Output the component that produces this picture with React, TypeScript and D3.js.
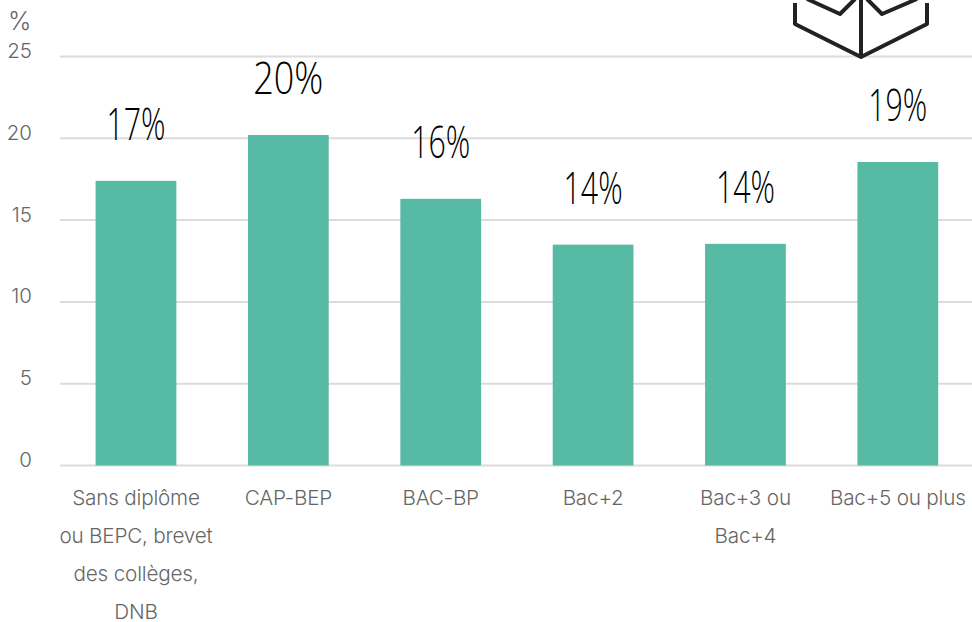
import React from "react";
import * as d3 from "d3";

const categories = ["Sans diplôme ou BEPC", "CAP-BEP", "BAC-BP", "Bac+2", "Bac+3 ou Bac+4", "Bac+5 ou plus"];
const categoryLines = [
  ["Sans diplôme", "ou BEPC, brevet", "des collèges,", "DNB"],
  ["CAP-BEP"],
  ["BAC-BP"],
  ["Bac+2"],
  ["Bac+3 ou", "Bac+4"],
  ["Bac+5 ou plus"],
];
const values = [17.4, 20.2, 16.3, 13.5, 13.55, 18.55];
const valueLabels = ["17%", "20%", "16%", "14%", "14%", "19%"];
const ticks = [0, 5, 10, 15, 20, 25];

const W = 972, H = 622;
const x = d3.scaleBand<string>().domain(categories).range([59.8, 974]).paddingInner(0.47).paddingOuter(0.235);
const y = d3.scaleLinear().domain([0, 25]).range([465.5, 56.5]);
const labelFont = "Inter, Lato, sans-serif";
const handFont = "'Open Sans', 'Noto Sans', sans-serif";
const handWidth = (s: string) => (s === "20%" ? 70 : 59);
const iconPath = d3.path();
iconPath.moveTo(795, 3); iconPath.lineTo(795, 24); iconPath.lineTo(861, 57); iconPath.lineTo(927, 24); iconPath.lineTo(927, 3);
iconPath.moveTo(861, -2); iconPath.lineTo(861, 57);
iconPath.moveTo(807, -1); iconPath.lineTo(840, 14); iconPath.lineTo(855, -1);
iconPath.moveTo(867, -1); iconPath.lineTo(882, 14); iconPath.lineTo(917, -1);

export default function App() {
  return (
    <svg width={W} height={H} viewBox={`0 0 ${W} ${H}`} style={{ position: "absolute", left: 0, top: 0, background: "#fff" }}>
      {ticks.map((t) => (
        <g key={t}>
          <line x1={60} x2={972} y1={y(t)} y2={y(t)} stroke="#dcdcdc" strokeWidth={2} />
          <text x={32} y={y(t) + 1.5} textAnchor="end" fontFamily={labelFont} fontWeight={300} fontSize={20.5} fill="#666">{t}</text>
        </g>
      ))}
      <text x={31.5} y={29.5} textAnchor="end" fontFamily={labelFont} fontWeight={300} fontSize={25} fill="#666">%</text>
      {categories.map((c, i) => (
        <rect key={c} x={x(c)!} y={y(values[i])} width={x.bandwidth()} height={y(0) - y(values[i])} fill="#57baa4" />
      ))}
      {categories.map((c, i) => (
        <g key={c}>
          {categoryLines[i].map((l, j) => (
            <text key={l} x={x(c)! + x.bandwidth() / 2} y={505 + j * 38} textAnchor="middle" fontFamily={labelFont} fontWeight={300} fontSize={20.7} letterSpacing={-0.2} fill="#666">{l}</text>
          ))}
          <text x={x(c)! + x.bandwidth() / 2} y={y(values[i]) - 41} textAnchor="middle" fontFamily={handFont} fontWeight={300} fontSize={44} textLength={handWidth(valueLabels[i])} lengthAdjust="spacingAndGlyphs" fill="#000">{valueLabels[i]}</text>
        </g>
      ))}
      <path d={iconPath.toString()} fill="none" stroke="#222" strokeWidth={4} strokeLinejoin="round" />
    </svg>
  );
}
